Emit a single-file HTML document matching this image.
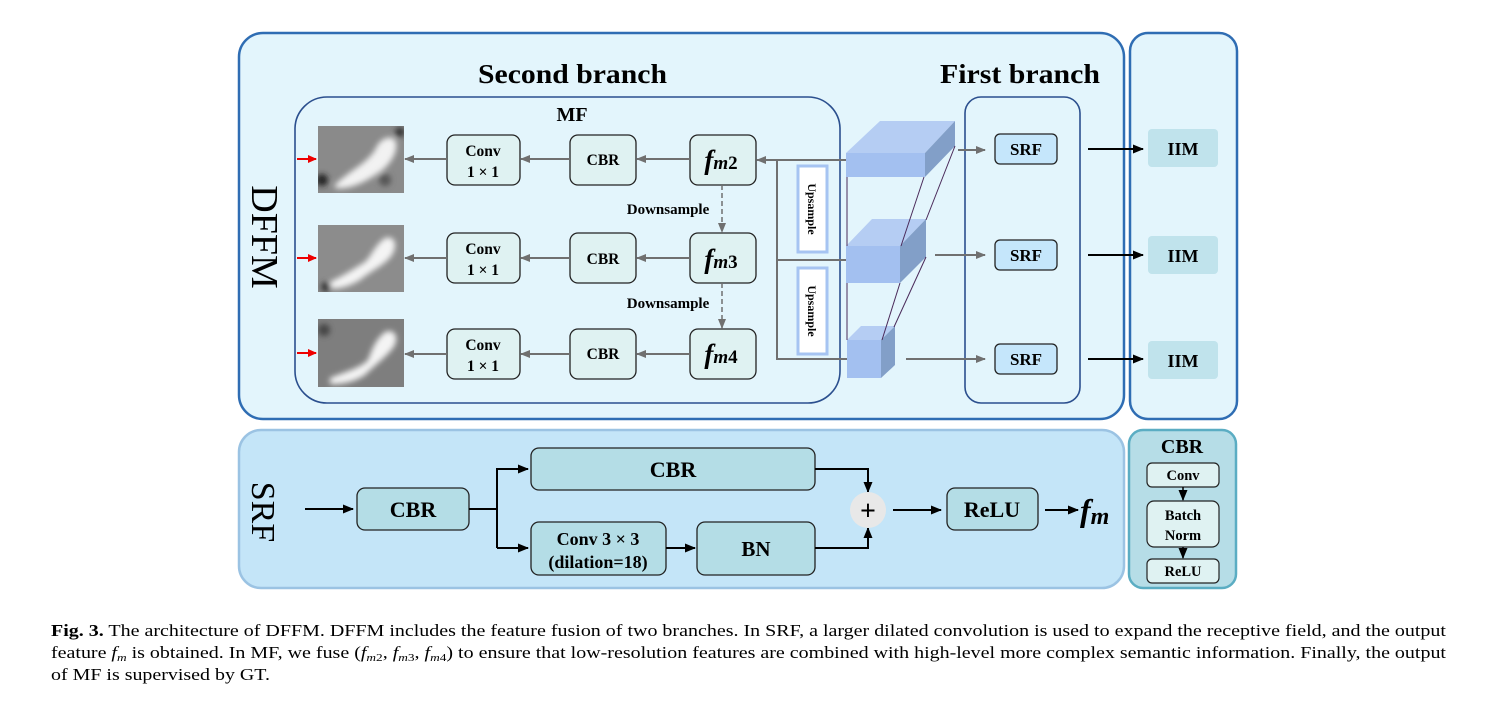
<!DOCTYPE html>
<html><head><meta charset="utf-8"><style>
html,body{margin:0;padding:0;background:#fff;}
svg{display:block;}
text{font-family:"Liberation Serif",serif;}
.b{font-weight:bold;}
</style></head><body>
<svg width="1506" height="711" viewBox="0 0 1506 711" xmlns="http://www.w3.org/2000/svg">
<defs>
<marker id="ag" markerWidth="10" markerHeight="8" refX="9" refY="4" orient="auto" markerUnits="userSpaceOnUse"><path d="M0,0 L10,4 L0,8 z" fill="#707070"/></marker>
<marker id="ak" markerWidth="11" markerHeight="9" refX="10" refY="4.5" orient="auto" markerUnits="userSpaceOnUse"><path d="M0,0 L11,4.5 L0,9 z" fill="#000"/></marker>
<marker id="ar" markerWidth="9" markerHeight="8" refX="8" refY="4" orient="auto" markerUnits="userSpaceOnUse"><path d="M0,0 L9,4 L0,8 z" fill="#e00"/></marker>
<filter id="bl"><feGaussianBlur stdDeviation="3"/></filter>
<clipPath id="c1"><rect x="318" y="126" width="86" height="67"/></clipPath>
<clipPath id="c2"><rect x="318" y="225" width="86" height="67"/></clipPath>
<clipPath id="c3"><rect x="318" y="319" width="86" height="68"/></clipPath>
</defs>

<rect x="239" y="33" width="885" height="386" rx="24" fill="#e3f5fc" stroke="#2f6db3" stroke-width="2.5"/>
<rect x="1130" y="33" width="107" height="386" rx="18" fill="#e3f5fc" stroke="#2f6db3" stroke-width="2.5"/>
<rect x="239" y="430" width="885" height="158" rx="22" fill="#c4e5f8" stroke="#9bc3e3" stroke-width="2.5"/>
<rect x="1129" y="430" width="107" height="158" rx="14" fill="#b6dde7" stroke="#5badc3" stroke-width="2.5"/>

<text x="478" y="83" font-size="27" class="b" textLength="189" lengthAdjust="spacingAndGlyphs">Second branch</text>
<text x="940" y="83" font-size="27" class="b" textLength="160" lengthAdjust="spacingAndGlyphs">First branch</text>
<text transform="translate(252,237) rotate(90)" font-size="38" text-anchor="middle">DFFM</text>
<text transform="translate(252,512) rotate(90)" font-size="34" text-anchor="middle">SRF</text>

<rect x="295" y="97" width="545" height="306" rx="32" fill="none" stroke="#2b4f8e" stroke-width="1.6"/>
<rect x="965" y="97" width="115" height="306" rx="16" fill="none" stroke="#2b4f8e" stroke-width="1.6"/>
<text x="572" y="121" font-size="20" class="b" text-anchor="middle">MF</text>

<g clip-path="url(#c1)"><rect x="318" y="126" width="86" height="67" fill="#8a8a8a"/><g filter="url(#bl)"><path d="M335,185 C350,170 365,165 375,150 C380,138 390,135 395,140 C400,150 390,165 380,172 C365,182 350,190 335,188 Z" fill="#f2f2f2"/><circle cx="322" cy="180" r="6" fill="#222"/><circle cx="400" cy="132" r="5" fill="#333"/><circle cx="385" cy="180" r="6" fill="#555"/></g></g>
<g clip-path="url(#c2)"><rect x="318" y="225" width="86" height="67" fill="#8c8c8c"/><g filter="url(#bl)"><path d="M330,282 C345,275 355,268 365,262 C372,255 375,245 385,238 C395,235 398,245 392,255 C385,265 372,270 360,280 C350,286 338,290 330,288 Z" fill="#f4f4f4"/><circle cx="326" cy="287" r="5" fill="#333"/></g></g>
<g clip-path="url(#c3)"><rect x="318" y="319" width="86" height="68" fill="#7e7e7e"/><g filter="url(#bl)"><path d="M330,378 C345,372 360,368 368,360 C372,350 375,340 385,332 C395,328 400,338 393,348 C385,358 375,365 365,375 C355,382 340,385 330,384 Z" fill="#f4f4f4"/><circle cx="324" cy="330" r="6" fill="#444"/></g></g>

<line x1="297" y1="159" x2="316" y2="159" stroke="#e00" stroke-width="2" marker-end="url(#ar)"/>
<line x1="297" y1="258" x2="316" y2="258" stroke="#e00" stroke-width="2" marker-end="url(#ar)"/>
<line x1="297" y1="353" x2="316" y2="353" stroke="#e00" stroke-width="2" marker-end="url(#ar)"/>

<g fill="#dff2f2" stroke="#222" stroke-width="1.3">
<rect x="447" y="135" width="73" height="50" rx="8"/><rect x="570" y="135" width="66" height="50" rx="8"/><rect x="690" y="135" width="66" height="50" rx="8"/>
<rect x="447" y="233" width="73" height="50" rx="8"/><rect x="570" y="233" width="66" height="50" rx="8"/><rect x="690" y="233" width="66" height="50" rx="8"/>
<rect x="447" y="329" width="73" height="50" rx="8"/><rect x="570" y="329" width="66" height="50" rx="8"/><rect x="690" y="329" width="66" height="50" rx="8"/>
</g>
<g font-size="15.5" class="b" text-anchor="middle">
<text x="483" y="156">Conv</text><text x="483" y="177">1 × 1</text>
<text x="483" y="254">Conv</text><text x="483" y="275">1 × 1</text>
<text x="483" y="350">Conv</text><text x="483" y="371">1 × 1</text>
<text x="603" y="165">CBR</text><text x="603" y="264">CBR</text><text x="603" y="359">CBR</text>
</g>
<g font-size="27" class="b" text-anchor="middle">
<text x="721" y="169"><tspan font-style="italic">f</tspan><tspan font-size="19" font-style="italic">m</tspan><tspan font-size="19">2</tspan></text>
<text x="721" y="268"><tspan font-style="italic">f</tspan><tspan font-size="19" font-style="italic">m</tspan><tspan font-size="19">3</tspan></text>
<text x="721" y="363"><tspan font-style="italic">f</tspan><tspan font-size="19" font-style="italic">m</tspan><tspan font-size="19">4</tspan></text>
</g>
<g stroke="#707070" stroke-width="2" fill="none">
<line x1="690" y1="159" x2="637" y2="159" marker-end="url(#ag)"/><line x1="570" y1="159" x2="521" y2="159" marker-end="url(#ag)"/><line x1="447" y1="159" x2="405" y2="159" marker-end="url(#ag)"/>
<line x1="690" y1="258" x2="637" y2="258" marker-end="url(#ag)"/><line x1="570" y1="258" x2="521" y2="258" marker-end="url(#ag)"/><line x1="447" y1="258" x2="405" y2="258" marker-end="url(#ag)"/>
<line x1="690" y1="354" x2="637" y2="354" marker-end="url(#ag)"/><line x1="570" y1="354" x2="521" y2="354" marker-end="url(#ag)"/><line x1="447" y1="354" x2="405" y2="354" marker-end="url(#ag)"/>
<line x1="722" y1="185" x2="722" y2="232" stroke-dasharray="5,3" stroke-width="1.5" marker-end="url(#ag)"/>
<line x1="722" y1="283" x2="722" y2="328" stroke-dasharray="5,3" stroke-width="1.5" marker-end="url(#ag)"/>
<line x1="847" y1="160" x2="757" y2="160" marker-end="url(#ag)"/>
<polyline points="777,160 777,359 847,359"/>
<line x1="777" y1="260" x2="847" y2="260"/>
<line x1="958" y1="150" x2="985" y2="150" marker-end="url(#ag)"/>
<line x1="935" y1="255" x2="985" y2="255" marker-end="url(#ag)"/>
<line x1="906" y1="359" x2="985" y2="359" marker-end="url(#ag)"/>
</g>
<text x="668" y="214" font-size="15" class="b" text-anchor="middle">Downsample</text>
<text x="668" y="308" font-size="15" class="b" text-anchor="middle">Downsample</text>

<rect x="798" y="166" width="29" height="86" fill="#fff" stroke="#a6c4f2" stroke-width="3"/>
<rect x="798" y="268" width="29" height="86" fill="#fff" stroke="#a6c4f2" stroke-width="3"/>
<text transform="translate(808,209) rotate(90)" font-size="12" class="b" text-anchor="middle">Upsample</text>
<text transform="translate(808,311) rotate(90)" font-size="12" class="b" text-anchor="middle">Upsample</text>

<g>
<polygon points="846,153 880,121 955,121 925,153" fill="#b5cdf3"/>
<rect x="846" y="153" width="79" height="24" fill="#a3c0f0"/>
<polygon points="925,153 955,121 955,146 925,177" fill="#829fc8"/>
<polygon points="846,246 872,219 926,219 900,246" fill="#b5cdf3"/>
<rect x="846" y="246" width="54" height="37" fill="#a3c0f0"/>
<polygon points="900,246 926,219 926,257 900,283" fill="#829fc8"/>
<polygon points="847,340 861,326 895,326 881,340" fill="#b5cdf3"/>
<rect x="847" y="340" width="34" height="38" fill="#a3c0f0"/>
<polygon points="881,340 895,326 895,365 881,378" fill="#829fc8"/>
</g>
<g stroke="#4a2a5a" stroke-width="1">
<line x1="847" y1="177" x2="847" y2="246"/><line x1="924" y1="177" x2="901" y2="246"/><line x1="955" y1="146" x2="926" y2="220"/>
<line x1="847" y1="283" x2="847" y2="340"/><line x1="900" y1="283" x2="882" y2="340"/><line x1="926" y1="257" x2="894" y2="327"/>
</g>

<g fill="#c5e6fb" stroke="#222" stroke-width="1.3">
<rect x="995" y="134" width="62" height="30" rx="5"/><rect x="995" y="240" width="62" height="30" rx="5"/><rect x="995" y="344" width="62" height="30" rx="5"/>
</g>
<g font-size="17" class="b" text-anchor="middle">
<text x="1026" y="155">SRF</text><text x="1026" y="261">SRF</text><text x="1026" y="365">SRF</text>
</g>
<g stroke="#000" stroke-width="2">
<line x1="1088" y1="149" x2="1143" y2="149" marker-end="url(#ak)"/>
<line x1="1088" y1="255" x2="1143" y2="255" marker-end="url(#ak)"/>
<line x1="1088" y1="359" x2="1143" y2="359" marker-end="url(#ak)"/>
</g>
<g fill="#c0e3ec">
<rect x="1148" y="129" width="70" height="38" rx="4"/><rect x="1148" y="236" width="70" height="38" rx="4"/><rect x="1148" y="341" width="70" height="38" rx="4"/>
</g>
<g font-size="18" class="b" text-anchor="middle">
<text x="1183" y="155">IIM</text><text x="1183" y="262">IIM</text><text x="1183" y="367">IIM</text>
</g>

<g fill="#b4dde6" stroke="#222" stroke-width="1.3">
<rect x="357" y="488" width="112" height="42" rx="8"/>
<rect x="531" y="448" width="284" height="42" rx="8"/>
<rect x="531" y="522" width="135" height="53" rx="8"/>
<rect x="697" y="522" width="118" height="53" rx="8"/>
<rect x="947" y="488" width="91" height="42" rx="8"/>
</g>
<g class="b" text-anchor="middle">
<text x="413" y="517" font-size="22">CBR</text>
<text x="673" y="477" font-size="22">CBR</text>
<text x="598" y="545" font-size="18">Conv 3 × 3</text>
<text x="598" y="568" font-size="18">(dilation=18)</text>
<text x="756" y="556" font-size="21">BN</text>
<text x="992" y="517" font-size="22">ReLU</text>
</g>
<g stroke="#000" stroke-width="2" fill="none">
<line x1="305" y1="509" x2="353" y2="509" marker-end="url(#ak)"/>
<line x1="469" y1="509" x2="497" y2="509"/>
<polyline points="497,548 497,469 528,469" marker-end="url(#ak)"/>
<line x1="497" y1="548" x2="528" y2="548" marker-end="url(#ak)"/>
<line x1="666" y1="548" x2="695" y2="548" marker-end="url(#ak)"/>
<polyline points="815,469 868,469 868,492" marker-end="url(#ak)"/>
<polyline points="815,548 868,548 868,528" marker-end="url(#ak)"/>
<line x1="893" y1="510" x2="941" y2="510" marker-end="url(#ak)"/>
<line x1="1045" y1="510" x2="1078" y2="510" marker-end="url(#ak)"/>
</g>
<circle cx="868" cy="510" r="18" fill="#e8e8e8"/>
<text x="868" y="520" font-size="28" class="b" text-anchor="middle">+</text>
<text x="1080" y="521" font-size="32" class="b" font-style="italic">f<tspan font-size="24" dy="3">m</tspan></text>

<text x="1182" y="453" font-size="20" class="b" text-anchor="middle">CBR</text>
<g fill="#dff2f2" stroke="#222" stroke-width="1.2">
<rect x="1147" y="463" width="72" height="24" rx="5"/>
<rect x="1147" y="501" width="72" height="46" rx="7"/>
<rect x="1147" y="559" width="72" height="24" rx="5"/>
</g>
<g font-size="14.5" class="b" text-anchor="middle">
<text x="1183" y="480">Conv</text><text x="1183" y="520">Batch</text><text x="1183" y="540">Norm</text><text x="1183" y="576">ReLU</text>
</g>
<g stroke="#000" stroke-width="1.5">
<line x1="1183" y1="487" x2="1183" y2="500" marker-end="url(#ak)"/>
<line x1="1183" y1="547" x2="1183" y2="558" marker-end="url(#ak)"/>
</g>

<g font-size="16.5">
<text x="51" y="636" textLength="1395" lengthAdjust="spacingAndGlyphs"><tspan class="b">Fig. 3.</tspan> The architecture of DFFM. DFFM includes the feature fusion of two branches. In SRF, a larger dilated convolution is used to expand the receptive field, and the output</text>
<text x="51" y="658" textLength="1395" lengthAdjust="spacingAndGlyphs">feature <tspan font-style="italic">f</tspan><tspan font-size="11" font-style="italic" dy="3">m</tspan><tspan dy="-3"> is obtained. In MF, we fuse (</tspan><tspan font-style="italic">f</tspan><tspan font-size="11" dy="3"><tspan font-style="italic">m</tspan>2</tspan><tspan dy="-3">, </tspan><tspan font-style="italic">f</tspan><tspan font-size="11" dy="3"><tspan font-style="italic">m</tspan>3</tspan><tspan dy="-3">, </tspan><tspan font-style="italic">f</tspan><tspan font-size="11" dy="3"><tspan font-style="italic">m</tspan>4</tspan><tspan dy="-3">) to ensure that low-resolution features are combined with high-level more complex semantic information. Finally, the output</tspan></text>
<text x="51" y="680" textLength="219" lengthAdjust="spacingAndGlyphs">of MF is supervised by GT.</text>
</g>
</svg>
</body></html>
